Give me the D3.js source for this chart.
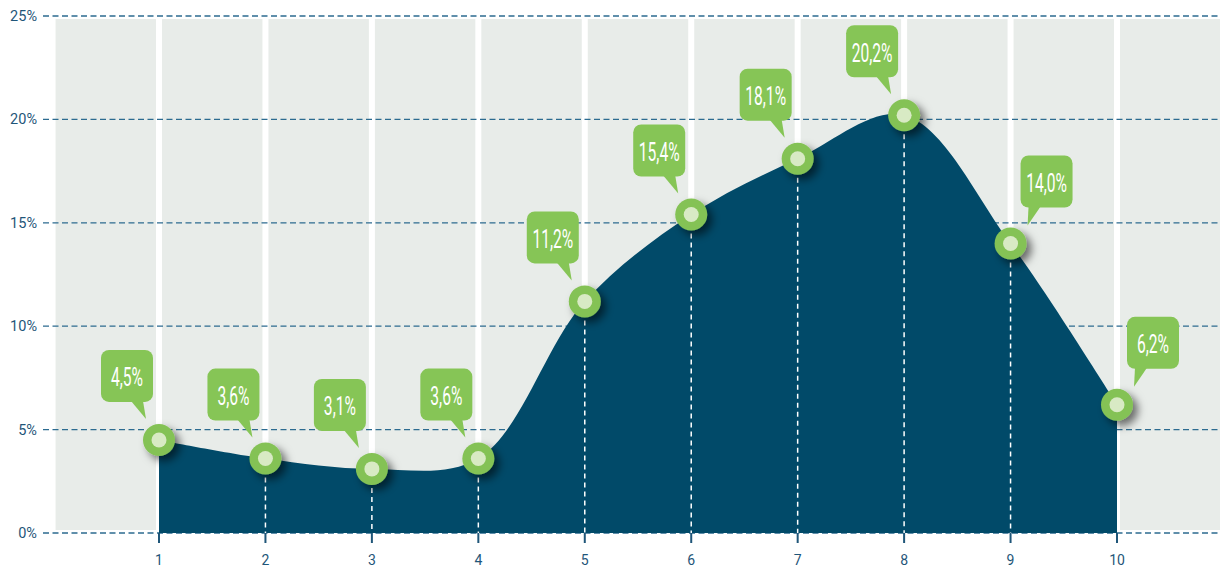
<!DOCTYPE html>
<html>
<head>
<meta charset="utf-8">
<script src="https://cdnjs.cloudflare.com/ajax/libs/d3/7.8.5/d3.min.js"></script>
<style>
    html, body { margin: 0; padding: 0; background: #fff; }
    #chart { width: 1220px; height: 569px; }
</style>
</head>
<body>
<div id="chart"></div>
<script>
;(function () {

    var categories = [1, 2, 3, 4, 5, 6, 7, 8, 9, 10];
    var values     = [4.5, 3.6, 3.1, 3.6, 11.2, 15.4, 18.1, 20.2, 14.0, 6.2];
    var labels     = ['4,5%', '3,6%', '3,1%', '3,6%', '11,2%', '15,4%', '18,1%', '20,2%', '14,0%', '6,2%'];
    var yTicks     = [0, 5, 10, 15, 20, 25];

    var width = 1220, height = 569;

    var x = d3.scaleLinear().domain([1, 10]).range([159, 1117]);
    var y = d3.scaleLinear().domain([0, 25]).range([533, 16]);

    var svg = d3.select('#chart').append('svg')
        .attr('width', width)
        .attr('height', height);

    var defs = svg.append('defs');
    var f = defs.append('filter').attr('id', 'shadow')
        .attr('x', '-80%').attr('y', '-80%').attr('width', '260%').attr('height', '260%');
    f.append('feDropShadow')
        .attr('dx', 5).attr('dy', 5)
        .attr('stdDeviation', 4.5)
        .attr('flood-color', '#000')
        .attr('flood-opacity', 0.55);

    // grey panel and white column separators
    svg.append('rect')
        .attr('x', x(0) + 3)
        .attr('y', y(25) + 3)
        .attr('width', width - x(0) - 3)
        .attr('height', y(0) - y(25) - 6)
        .attr('fill', '#e8ece9');

    svg.selectAll('line.sep')
        .data(categories.concat([11]))
        .enter().append('line')
        .attr('class', 'sep')
        .attr('x1', function (d) { return x(d); })
        .attr('x2', function (d) { return x(d); })
        .attr('y1', y(25) + 3)
        .attr('y2', y(0) - 3)
        .attr('stroke', '#fff')
        .attr('stroke-width', 6);

    // horizontal dashed grid
    svg.selectAll('line.grid')
        .data(yTicks)
        .enter().append('line')
        .attr('class', 'grid')
        .attr('x1', 43)
        .attr('x2', width)
        .attr('y1', function (d) { return y(d); })
        .attr('y2', function (d) { return y(d); })
        .attr('stroke', '#2c6b90')
        .attr('stroke-width', 1.3)
        .attr('stroke-dasharray', '6,3.5');

    var yAxis = svg.append('g');
    yAxis.selectAll('text')
        .data(yTicks)
        .enter().append('text')
        .attr('x', 37)
        .attr('y', function (d) { return y(d); })
        .attr('dy', '0.35em')
        .attr('text-anchor', 'end')
        .attr('font-family', 'Roboto, "Liberation Sans", sans-serif')
        .attr('font-size', 14.5)
        .attr('fill', '#1f5679')
        .text(function (d) { return d + '%'; });

    // area under the curve
    var pts = categories.map(function (c, i) { return { c: c, v: values[i], label: labels[i], i: i }; });

    var area = d3.area()
        .x(function (d) { return x(d.c); })
        .y0(y(0))
        .y1(function (d) { return y(d.v); })
        .curve(d3.curveCatmullRom.alpha(0.5));

    svg.append('path')
        .datum(pts)
        .attr('d', area)
        .attr('fill', '#014a69');

    // white dashed drops from each inner point
    svg.selectAll('line.drop')
        .data(pts.slice(1, -1))
        .enter().append('line')
        .attr('class', 'drop')
        .attr('x1', function (d) { return x(d.c); })
        .attr('x2', function (d) { return x(d.c); })
        .attr('y1', function (d) { return y(d.v) + 10; })
        .attr('y2', y(0))
        .attr('stroke', '#fff')
        .attr('stroke-width', 1.5)
        .attr('stroke-dasharray', '5,4');

    // x axis ticks and labels
    var xAxis = svg.append('g');
    xAxis.selectAll('line')
        .data(categories)
        .enter().append('line')
        .attr('x1', function (d) { return x(d); })
        .attr('x2', function (d) { return x(d); })
        .attr('y1', y(0))
        .attr('y2', y(0) + 10)
        .attr('stroke', '#1f5679')
        .attr('stroke-width', 2);
    xAxis.selectAll('text')
        .data(categories)
        .enter().append('text')
        .attr('x', function (d) { return x(d); })
        .attr('y', 560)
        .attr('dy', '0.35em')
        .attr('text-anchor', 'middle')
        .attr('font-family', 'Roboto, "Liberation Sans", sans-serif')
        .attr('font-size', 14)
        .attr('fill', '#1f5679')
        .text(function (d) { return d; });

    // markers
    var peak = d3.maxIndex(values);
    var marks = svg.selectAll('g.mark')
        .data(pts)
        .enter().append('g')
        .attr('class', 'mark')
        .attr('transform', function (d) { return 'translate(' + x(d.c) + ',' + y(d.v) + ')'; });
    marks.append('circle')
        .attr('r', 16)
        .attr('fill', '#84c255')
        .attr('filter', 'url(#shadow)');
    marks.append('circle')
        .attr('r', 7.5)
        .attr('fill', '#d8eac4');

    // callouts
    var bw = 52, bh = 52, r = 8;
    var callouts = svg.selectAll('g.callout')
        .data(pts)
        .enter().append('g')
        .attr('class', 'callout');

    callouts.each(function (d) {
        var g = d3.select(this);
        var mx = x(d.c), my = y(d.v);
        var right = d.i > peak;
        var bx, by, tip, base;
        if (right) {
            bx = mx + 10;
            by = my - 36 - bh;
            tip = [mx + 17, my - 18];
            base = [bx + 8, bx + 20];
        } else {
            bx = mx - 6 - bw;
            by = my - 38 - bh;
            tip = [mx - 13, my - 21];
            base = [bx + bw - 22, bx + bw - 10];
        }
        if (by < 25) by = 25;
        g.append('path')
            .attr('d', 'M' + base[0] + ',' + (by + bh - 1) + 'L' + tip[0] + ',' + tip[1] + 'L' + base[1] + ',' + (by + bh - 1) + 'Z')
            .attr('fill', '#86c556');
        g.append('rect')
            .attr('x', bx).attr('y', by)
            .attr('width', bw).attr('height', bh)
            .attr('rx', r).attr('ry', r)
            .attr('fill', '#86c556');
        g.append('text')
            .attr('transform', 'translate(' + (bx + bw / 2) + ',' + (by + bh / 2 + 1) + ') scale(0.6,1)')
            .attr('dy', '0.36em')
            .attr('text-anchor', 'middle')
            .attr('font-family', 'Roboto, "Open Sans", sans-serif')
            .attr('font-size', 26)
            .attr('font-weight', 400)
            .attr('fill', '#fff')
            .text(d.label);
    });

})();
</script>
</body>
</html>
